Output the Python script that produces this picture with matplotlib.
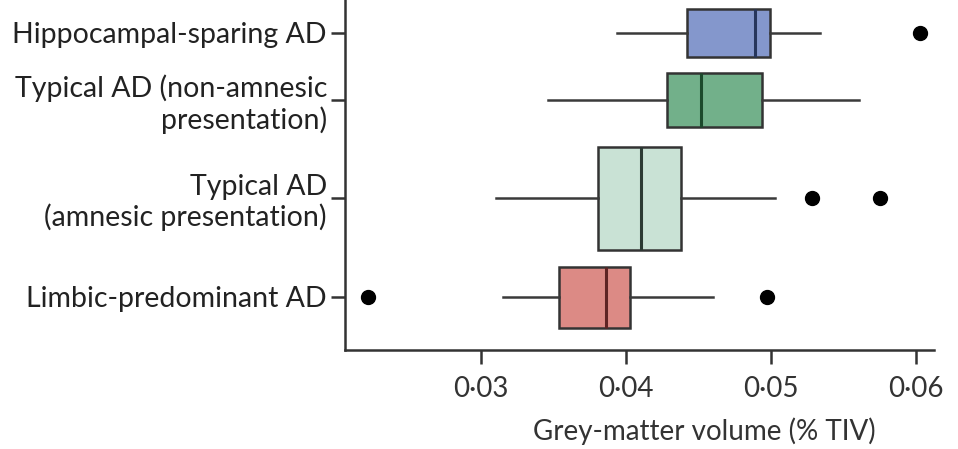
import numpy as np
import matplotlib
matplotlib.use('Agg')
import matplotlib.pyplot as plt

plt.rcParams['font.family'] = ['Lato', 'DejaVu Sans']

# groups, top to bottom
groups = ['Hippocampal-sparing AD',
          'Typical AD (non-amnesic\npresentation)',
          'Typical AD\n(amnesic presentation)',
          'Limbic-predominant AD']
whislo = [0.0394, 0.0346, 0.0310, 0.0315]
q1 = [0.0442, 0.0428, 0.0381, 0.0354]
med = [0.0489, 0.0452, 0.0410, 0.0386]
q3 = [0.0499, 0.0494, 0.0438, 0.0403]
whishi = [0.0534, 0.0561, 0.0503, 0.0460]
fliers = [[0.0603], [], [0.0528, 0.0575], [0.0222, 0.0497]]

xticks = [0.03, 0.04, 0.05, 0.06]
xticklabels = ['0\u00b703', '0\u00b704', '0\u00b705', '0\u00b706']

# layout (pixel-like y units)
ypos = [33, 100, 198, 297]
heights = [48, 54, 103, 61]
face = ['#8497cc', '#72b08a', '#c9e2d5', '#dc8a85']
med_col = ['#27365c', '#1c4a2c', '#2b3a33', '#5e2424']

fig = plt.figure(figsize=(9.58, 4.49), dpi=100)
ax = fig.add_axes([345 / 958, 1 - 350 / 449, (934 - 345) / 958, 350 / 449])

stats = []
for i in range(len(groups)):
    stats.append(dict(whislo=whislo[i], q1=q1[i], med=med[i], q3=q3[i],
                      whishi=whishi[i], fliers=fliers[i]))

for i, s in enumerate(stats):
    ax.bxp([s], positions=[ypos[i]], widths=[heights[i]], vert=False,
           patch_artist=True, showcaps=False,
           boxprops=dict(facecolor=face[i], edgecolor='#333333', linewidth=1.8),
           medianprops=dict(color=med_col[i], linewidth=2.2),
           whiskerprops=dict(color='#3a3a3a', linewidth=1.8),
           flierprops=dict(marker='o', markerfacecolor='black',
                           markeredgecolor='black', markersize=10))

ax.set_ylim(350, 0)
ax.set_xlim(0.02062, 0.06124)
ax.set_yticks(ypos)
ax.set_yticklabels(groups, fontsize=20.5, color='#222222', ha='right',
                   linespacing=1.15)
ax.set_xticks(xticks)
ax.set_xticklabels(xticklabels, fontsize=20, color='#333333')
ax.set_xlabel('Grey-matter volume (% TIV)', fontsize=20, color='#333333')
ax.xaxis.set_label_coords(0.61, -0.232, transform=ax.transAxes)
ax.xaxis.label.set_va('center')

for sp in ['top', 'right']:
    ax.spines[sp].set_visible(False)
for sp in ['left', 'bottom']:
    ax.spines[sp].set_linewidth(1.8)
    ax.spines[sp].set_color('#333333')
ax.tick_params(axis='both', width=1.8, length=10, color='#333333')
ax.tick_params(axis='y', pad=3)
ax.tick_params(axis='x', pad=9)

fig.savefig('out.png', dpi=100)
